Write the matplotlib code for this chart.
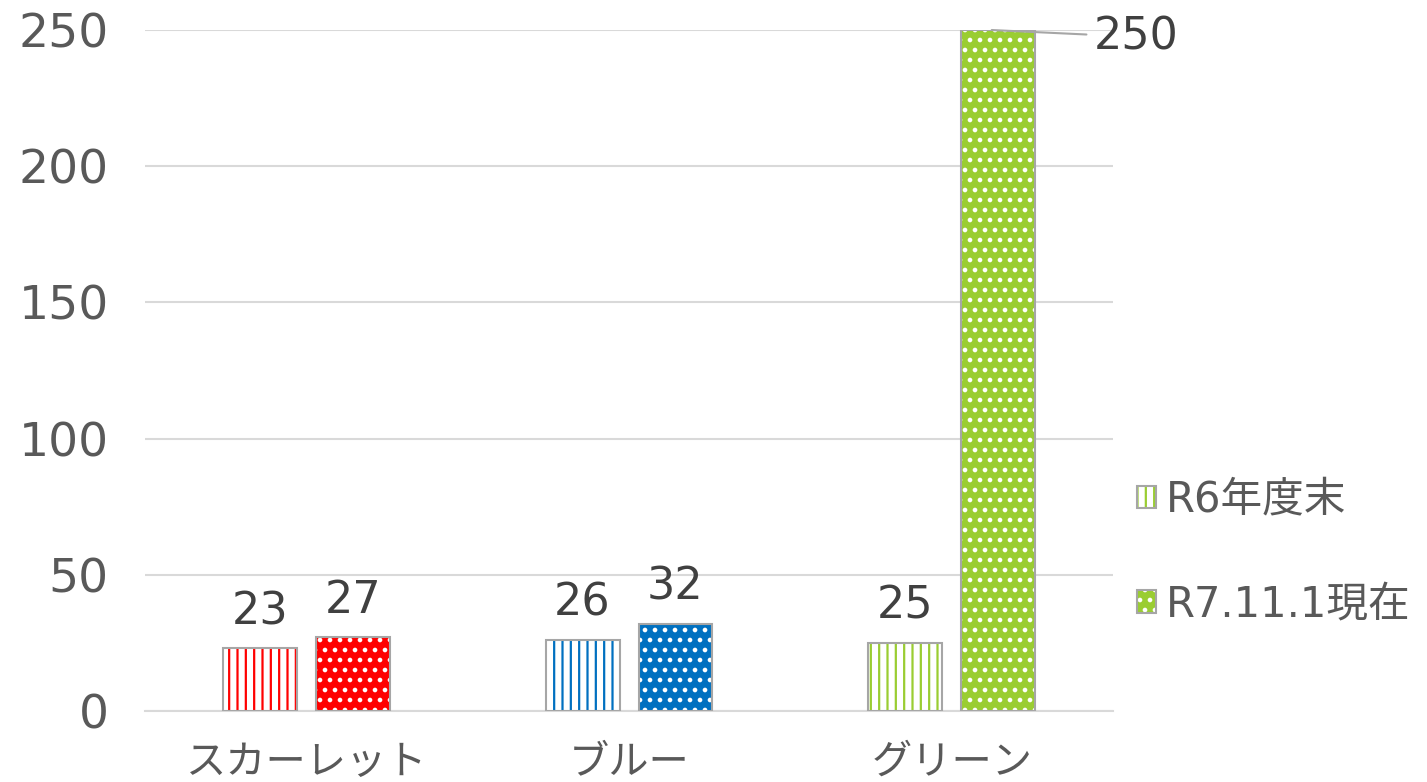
import matplotlib
matplotlib.use('Agg')
import matplotlib.pyplot as plt
import matplotlib.hatch as mhatch
import numpy as np
from matplotlib.patches import Patch

plt.rcParams['font.family'] = ['DejaVu Sans', 'Noto Sans CJK JP']
plt.rcParams['hatch.linewidth'] = 1.6


# sparser white dot pattern for '.' (closer to the Excel "small dots" fill)
class SparseDots(mhatch.Circles):
    size = 0.12
    filled = True

    def __init__(self, hatch, density):
        # must be even for the staggered grid
        self.num_rows = 10 * hatch.count('.')
        super().__init__(hatch, density)


mhatch._hatch_types[mhatch._hatch_types.index(mhatch.SmallFilledCircles)] = SparseDots

# Chart data
categories = ['スカーレット', 'ブルー', 'グリーン']
series_names = ['R6年度末', 'R7.11.1現在']
r6_values = [23, 26, 25]
r7_values = [27, 32, 250]
bar_colors = ['#FF0000', '#0070C0', '#9ACD32']
y_ticks = [0, 50, 100, 150, 200, 250]

text_color = '#595959'
label_color = '#404040'
edge_gray = '#A6A6A6'
grid_gray = '#D9D9D9'

fig = plt.figure(figsize=(14.27, 7.82), dpi=100)
ax = fig.add_axes([0.1016, 0.0908, 0.6784, 0.8708])

x = np.arange(len(categories))
width = 0.229
offset = 0.144

for i in range(len(categories)):
    c = bar_colors[i]
    # R6: white with vertical stripes
    ax.bar(x[i] - offset, r6_values[i], width, facecolor='white', edgecolor=c,
           hatch='||', linewidth=0, zorder=3)
    ax.bar(x[i] - offset, r6_values[i], width, facecolor='none', edgecolor=edge_gray,
           linewidth=1.5, zorder=4)
    # R7: solid colour with white dots
    ax.bar(x[i] + offset, r7_values[i], width, facecolor=c, edgecolor='white',
           hatch='.', linewidth=0, zorder=3)
    ax.bar(x[i] + offset, r7_values[i], width, facecolor='none', edgecolor=edge_gray,
           linewidth=1.5, zorder=4)

# data labels
lab_fs = 32
for i in range(len(categories)):
    ax.annotate(str(r6_values[i]), (x[i] - offset, r6_values[i]), xytext=(0, 11),
                textcoords='offset points', ha='center', va='bottom',
                fontsize=lab_fs, color=label_color)
    if r7_values[i] < 200:
        ax.annotate(str(r7_values[i]), (x[i] + offset, r7_values[i]), xytext=(0, 11),
                    textcoords='offset points', ha='center', va='bottom',
                    fontsize=lab_fs, color=label_color)
    else:
        ax.annotate(str(r7_values[i]), (x[i] + offset - 0.02, r7_values[i]),
                    xytext=(x[i] + offset + 0.295, r7_values[i] - 2.5),
                    textcoords='data', ha='left', va='center',
                    fontsize=lab_fs, color=label_color,
                    arrowprops=dict(arrowstyle='-', color=edge_gray, lw=1.5,
                                    shrinkA=3, shrinkB=0),
                    annotation_clip=False)

ax.set_xlim(-0.5, 2.5)
ax.set_ylim(0, 250)
ax.set_yticks(y_ticks)
ax.set_xticks(x)
ax.set_xticklabels(categories, family=['Noto Sans CJK JP'], fontsize=29)
ax.tick_params(axis='both', length=0, labelcolor=text_color)
ax.tick_params(axis='y', labelsize=34, pad=26)
ax.tick_params(axis='x', pad=22)
ax.yaxis.grid(True, color=grid_gray, linewidth=1.5, zorder=0)
ax.set_axisbelow(True)
for s in ['top', 'right', 'left']:
    ax.spines[s].set_visible(False)
ax.spines['bottom'].set_color(grid_gray)
ax.spines['bottom'].set_linewidth(1.5)

# legend with patterned handles
g = bar_colors[2]
h1 = (Patch(facecolor='white', edgecolor=g, hatch='||', linewidth=0),
      Patch(facecolor='none', edgecolor=edge_gray, linewidth=1.5))
h2 = (Patch(facecolor=g, edgecolor='white', hatch='.', linewidth=0),
      Patch(facecolor='none', edgecolor=edge_gray, linewidth=1.5))
fig.legend([h1, h2], series_names, loc='center left',
           bbox_to_anchor=(0.797, 0.294), frameon=False, fontsize=30,
           labelcolor=text_color, handlelength=0.46, handleheight=0.46,
           handletextpad=0.22, labelspacing=1.5, borderpad=0, borderaxespad=0)

fig.savefig('out.png', dpi=100)
